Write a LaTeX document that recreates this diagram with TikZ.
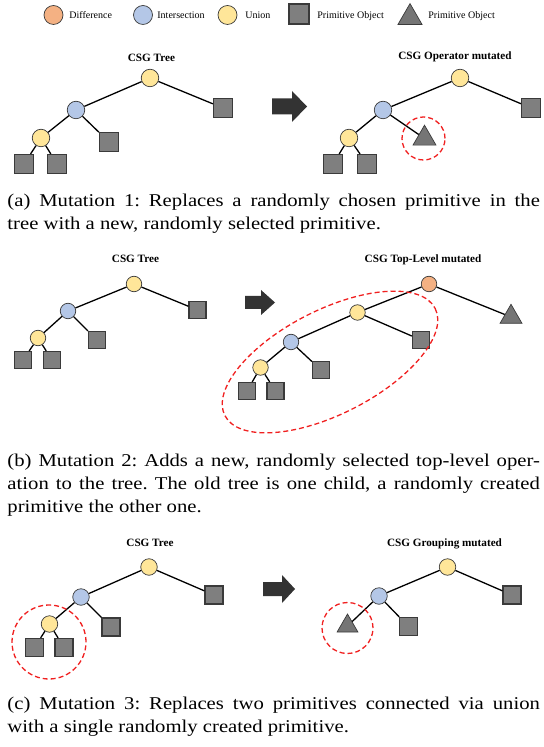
\documentclass[tikz,border=0pt]{standalone}
\usepackage{fontspec}
\setmainfont{Liberation Serif}
\usetikzlibrary{shapes.geometric}

\definecolor{unionfill}{HTML}{FFE699}
\definecolor{interfill}{HTML}{B4C7E7}
\definecolor{difffill}{HTML}{F4B183}
\definecolor{primfill}{HTML}{7F7F7F}
\definecolor{primline}{HTML}{3A3A3A}
\definecolor{arrowfill}{HTML}{333333}
\definecolor{ringred}{HTML}{F02020}

\newcommand\opsize{8.75pt}
\newcommand\primsize{9.5pt}
\newcommand\trisize{13.3pt}

\tikzset{
  opnode/.style={circle,draw=primline,line width=0.35pt,minimum size=\opsize,inner sep=0pt},
  uni/.style={opnode,fill=unionfill},
  inter/.style={opnode,fill=interfill},
  diff/.style={opnode,fill=difffill},
  prim/.style={rectangle,draw=primline,line width=0.6pt,fill=primfill,minimum size=\primsize,inner sep=0pt},
  primtri/.style={regular polygon,regular polygon sides=3,draw=primline,line width=0.35pt,fill=primfill!92!black,minimum size=\trisize,inner sep=0pt},
  branch/.style={line width=0.65pt},
  mutring/.style={draw=ringred,line width=0.65pt,dash pattern=on 2.5pt off 1.5pt},
  ringnode/.style={mutring,circle,inner sep=0pt},
  treelabel/.style={anchor=base,inner sep=0pt,font=\fontsize{5.6}{6.5}\selectfont\bfseries},
  legendtext/.style={anchor=base west,inner sep=0pt,font=\fontsize{5}{6}\selectfont},
  caption/.style={anchor=north west,xscale=1.15,transform shape,text width=231.5pt,align=justify,inner sep=0pt,
    font=\fontsize{9}{11.5}\selectfont\frenchspacing}
}

\begin{document}
\begin{tikzpicture}[x=0.5pt,y=-0.5pt]
  \useasboundingbox (0,0) rectangle (543,747);

  % legend
  \node[diff,minimum size=9.5pt] (lgDiff) at (53.5,15) {};
  \node[legendtext] (lgDiffText) at (69,18.5) {Difference};
  \node[inter,minimum size=9.5pt] (lgInter) at (143,15) {};
  \node[legendtext] (lgInterText) at (157,18.5) {Intersection};
  \node[uni,minimum size=9.5pt] (lgUni) at (227.5,15) {};
  \node[legendtext] (lgUniText) at (245,18.5) {Union};
  \node[prim,minimum size=10pt] (lgPrim) at (299,14) {};
  \node[legendtext] (lgPrimText) at (317,18.5) {Primitive Object};
  \node[primtri,minimum size=13.9pt] (lgTri) at (410,17.5) {};
  \node[legendtext] (lgTriText) at (428,18.5) {Primitive Object};

  % (a) operator mutation
  \node[treelabel] (aTitle) at (151.5,62) {CSG Tree};
  \node[uni] (aR) at (150,78) {};
  \node[prim] (aP1) at (223,108) {};
  \node[inter] (aI) at (76,110) {};
  \node[uni] (aU) at (41,138) {};
  \node[prim] (aP2) at (109,142) {};
  \node[prim] (aP3) at (24,164) {};
  \node[prim] (aP4) at (57,164) {};
  \draw[branch] (aR) -- (aP1) (aR) -- (aI) (aI) -- (aP2) (aI) -- (aU)
    (aU) -- (aP3) (aU) -- (aP4);

  \fill[arrowfill] (272,98.5) -- (292,98.5) -- (292,91) -- (307,106.5)
    -- (292,122) -- (292,114.5) -- (272,114.5) -- cycle;

  \node[treelabel] (aTitleNew) at (455,60) {CSG Operator mutated};
  \node[uni] (aRn) at (460,78) {};
  \node[prim] (aP1n) at (531,108) {};
  \node[inter] (aIn) at (383,110) {};
  \node[uni] (aUn) at (349,138) {};
  \node[primtri] (aTn) at (424.5,138.5) {};
  \node[prim] (aP3n) at (333,164) {};
  \node[prim] (aP4n) at (367,164) {};
  \draw[branch] (aRn) -- (aP1n) (aRn) -- (aIn) (aIn) -- (aTn) (aIn) -- (aUn)
    (aUn) -- (aP3n) (aUn) -- (aP4n);
  \node[ringnode,minimum size=21.5pt] (aRing) at (423.5,138.5) {};

  \node[caption] (aCap) at (7,193.5) {(a) Mutation 1: Replaces a randomly chosen primitive in the\linebreak tree with a new, randomly selected primitive.};

  % (b) top-level mutation
  \begin{scope}
  \renewcommand\opsize{7.75pt}
  \renewcommand\primsize{8.5pt}
  \renewcommand\trisize{12.7pt}
  \node[treelabel] (bTitle) at (135.5,263) {CSG Tree};
  \node[uni] (bR) at (134,284) {};
  \node[prim] (bP1) at (197.5,310) {};
  \node[inter] (bI) at (68,311) {};
  \node[uni] (bU) at (38,338) {};
  \node[prim] (bP2) at (97,340) {};
  \node[prim] (bP3) at (23,360) {};
  \node[prim] (bP4) at (52,360) {};
  \draw[branch] (bR) -- (bP1) (bR) -- (bI) (bI) -- (bP2) (bI) -- (bU)
    (bU) -- (bP3) (bU) -- (bP4);

  \fill[arrowfill] (245,296) -- (261,296) -- (261,290) -- (275,302.5)
    -- (261,315) -- (261,309) -- (245,309) -- cycle;

  \node[treelabel] (bTitleNew) at (423,263) {CSG Top-Level mutated};
  \node[diff] (bD) at (429,284) {};
  \node[primtri] (bT) at (511,317) {};
  \node[uni] (bRn) at (357.5,312.5) {};
  \node[prim] (bP1n) at (421,340) {};
  \node[inter] (bIn) at (291,342) {};
  \node[uni] (bUn) at (260.5,367.5) {};
  \node[prim] (bP2n) at (321,370) {};
  \node[prim] (bP3n) at (247,391) {};
  \node[prim] (bP4n) at (275.5,391) {};
  \draw[branch] (bD) -- (bT) (bD) -- (bRn) (bRn) -- (bP1n) (bRn) -- (bIn)
    (bIn) -- (bP2n) (bIn) -- (bUn) (bUn) -- (bP3n) (bUn) -- (bP4n);
  \draw[mutring,shift={(330,362)},rotate=27] (0,0) ellipse [x radius=118,y radius=52];
  \end{scope}

  \node[caption] (bCap) at (7,453.5) {(b) Mutation 2: Adds a new, randomly selected top-level oper-\linebreak ation to the tree. The old tree is one child, a randomly created\linebreak primitive the other one.};

  % (c) grouping mutation
  \begin{scope}
  \renewcommand\opsize{8.25pt}
  \renewcommand\primsize{9pt}
  \renewcommand\trisize{12pt}
  \node[treelabel] (cTitle) at (150,546) {CSG Tree};
  \node[uni] (cR) at (149,567) {};
  \node[prim] (cP1) at (214,595) {};
  \node[inter] (cI) at (81,597) {};
  \node[uni] (cU) at (49.5,624) {};
  \node[prim] (cP2) at (111,627) {};
  \node[prim] (cP3) at (34.5,647.5) {};
  \node[prim] (cP4) at (64,647.5) {};
  \draw[branch] (cR) -- (cP1) (cR) -- (cI) (cI) -- (cP2) (cI) -- (cU)
    (cU) -- (cP3) (cU) -- (cP4);
  \node[ringnode,minimum size=37pt] (cRing) at (49,642) {};

  \fill[arrowfill] (263,582) -- (282,582) -- (282,575) -- (295,589)
    -- (282,603) -- (282,596) -- (263,596) -- cycle;

  \node[treelabel] (cTitleNew) at (444.5,546) {CSG Grouping mutated};
  \node[uni] (cRn) at (447.5,567) {};
  \node[prim] (cP1n) at (512,595) {};
  \node[inter] (cIn) at (379,596) {};
  \node[prim] (cP2n) at (408.5,626.5) {};
  \node[primtri] (cTn) at (347.5,626) {};
  \draw[branch] (cRn) -- (cP1n) (cRn) -- (cIn) (cIn) -- (cP2n) (cIn) -- (cTn);
  \node[ringnode,minimum size=25.5pt] (cRingNew) at (347.5,628) {};
  \end{scope}

  \node[caption] (cCap) at (7,696.5) {(c) Mutation 3: Replaces two primitives connected via union\linebreak with a single randomly created primitive.};
\end{tikzpicture}
\end{document}
